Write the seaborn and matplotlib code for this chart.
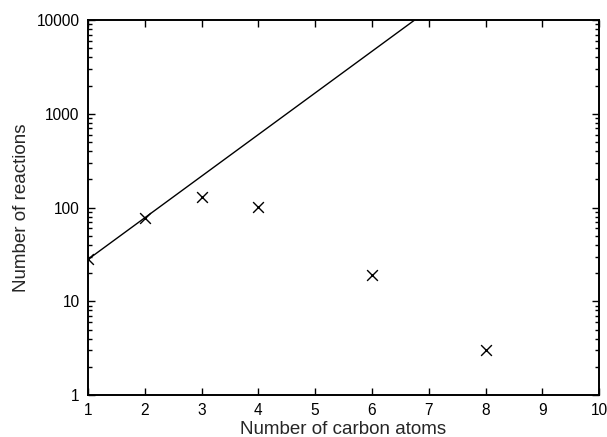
import matplotlib
matplotlib.use("Agg")
import matplotlib.pyplot as plt
import matplotlib.ticker as mticker
import pandas as pd
import seaborn as sns

# data
carbon_atoms = [1, 2, 3, 4, 6, 8]
reactions = [28, 77, 130, 102, 19, 3]

# fitted exponential, drawn as a straight line on log axis
fit_x = [1, 6.75]
fit_y = [28, 10000]

x_ticks = [1, 2, 3, 4, 5, 6, 7, 8, 9, 10]
y_ticks = [1, 10, 100, 1000, 10000]

sns.set_style("ticks")
plt.rcParams['font.family'] = ['Liberation Sans', 'DejaVu Sans']

fig = plt.figure(figsize=(6.07, 4.37), dpi=100)
ax = fig.add_axes([0.145, 0.096, 0.842, 0.858])

df = pd.DataFrame({'n': carbon_atoms, 'r': reactions})
fit = pd.DataFrame({'n': fit_x, 'r': fit_y})

sns.lineplot(data=fit, x='n', y='r', ax=ax, color='black', linewidth=1.0)
sns.scatterplot(data=df, x='n', y='r', ax=ax, marker='x', s=60,
                color='black', linewidth=1.0, zorder=3)

ax.set_yscale('log')
ax.set_xlim(1, 10)
ax.set_ylim(1, 10000)
ax.set_xticks(x_ticks)
ax.set_yticks(y_ticks)
ax.yaxis.set_major_formatter(mticker.FuncFormatter(lambda v, p: f"{int(v)}"))
ax.yaxis.set_minor_locator(mticker.LogLocator(base=10, subs=range(2, 10)))
ax.yaxis.set_minor_formatter(mticker.NullFormatter())

ax.tick_params(which='both', direction='in', top=True, right=True,
               labelsize=11.2, color='black', labelcolor='black', width=1.0)
ax.tick_params(which='major', length=5, pad=6)
ax.tick_params(which='minor', length=3)
for s in ax.spines.values():
    s.set_linewidth(1.4)
    s.set_color('black')

ax.set_xlabel("Number of carbon atoms", fontsize=13.5, labelpad=2)
ax.set_ylabel("Number of reactions", fontsize=13.5, labelpad=5)

fig.savefig("out.png", dpi=100)
